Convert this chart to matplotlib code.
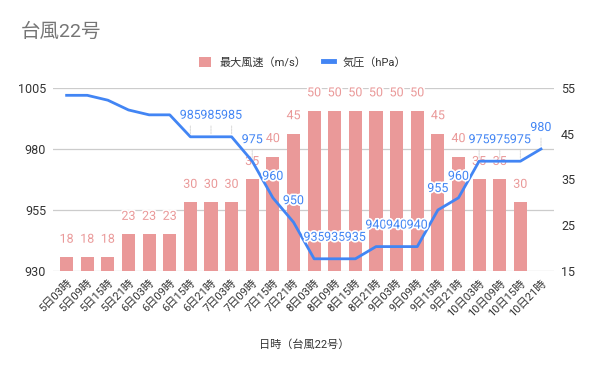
import numpy as np
import matplotlib
matplotlib.use("Agg")
import matplotlib.pyplot as plt
import matplotlib.patheffects as pe
from matplotlib.patches import Patch
from matplotlib.lines import Line2D

plt.rcParams['font.family'] = ['Roboto', 'Noto Sans CJK JP', 'DejaVu Sans']

categories = ["5日03時", "5日09時", "5日15時", "5日21時",
              "6日03時", "6日09時", "6日15時", "6日21時",
              "7日03時", "7日09時", "7日15時", "7日21時",
              "8日03時", "8日09時", "8日15時", "8日21時",
              "9日03時", "9日09時", "9日15時", "9日21時",
              "10日03時", "10日09時", "10日15時", "10日21時"]
wind = [18, 18, 18, 23, 23, 23, 30, 30, 30, 35, 40, 45,
        50, 50, 50, 50, 50, 50, 45, 40, 35, 35, 30, np.nan]
pressure = [1002, 1002, 1000, 996, 994, 994, 985, 985, 985, 975, 960, 950,
            935, 935, 935, 940, 940, 940, 955, 960, 975, 975, 975, 980]
pressure_labeled = [False] * 6 + [True] * 18
leader = [6, 7, 8, 9, 20, 21, 22, 23]
series_names = ["最大風速（m/s）", "気圧（hPa）"]
x_title = "日時（台風22号）"
chart_title = "台風22号"

bar_color = '#EA9999'
line_color = '#4285F4'
text_color = '#333333'

fig = plt.figure(figsize=(6, 3.71), dpi=100)
ax = fig.add_axes([53/600, 1-271/371, (554-53)/600, (271-88)/371])
ax2 = ax.twinx()

x = np.arange(len(categories))

# bars (wind) on ax, right side ticks
ax.bar(x, wind, width=0.64, color=bar_color, zorder=2)
ax.set_ylim(15, 55)
ax.set_yticks([15, 25, 35, 45, 55])
ax.yaxis.tick_right()
ax.set_xlim(-0.66, 23.63)
ax.set_xticks(x)
ax.set_xticklabels(categories, rotation=45, ha='right', rotation_mode='anchor',
                   fontsize=8, color=text_color)
ax.tick_params(axis='x', length=0, pad=5)
ax.tick_params(axis='y', length=0, pad=5, labelsize=9, labelcolor=text_color)

for g in [930, 955, 980, 1005]:
    yy = 15 + (g - 930) / 75 * 40
    ax.axhline(yy, color='#cccccc', lw=0.9, zorder=0)

halo = [pe.withStroke(linewidth=2.5, foreground='white')]
for i, v in enumerate(wind):
    if np.isnan(v):
        continue
    ax.annotate(f"{int(v)}", xy=(i, v), xytext=(0, 13), textcoords='offset points',
                ha='center', va='center', fontsize=9, color=bar_color,
                path_effects=halo, zorder=3)

# line (pressure) on ax2, left side ticks
ax2.plot(x, pressure, color=line_color, lw=2, zorder=4, solid_joinstyle='round')
ax2.set_ylim(930, 1005)
ax2.set_yticks([930, 955, 980, 1005])
ax2.yaxis.tick_left()
ax2.tick_params(axis='y', length=0, pad=5, labelsize=9, labelcolor=text_color)

for i, v in enumerate(pressure):
    if not pressure_labeled[i]:
        continue
    kw = {}
    if i in leader:
        kw['arrowprops'] = dict(arrowstyle='-', color='#d9d9d9', lw=0.7,
                                linestyle=(0, (2, 1)), shrinkA=1, shrinkB=2)
    ax2.annotate(f"{v}", xy=(i, v), xytext=(0, 15.5), textcoords='offset points',
                 ha='center', va='center', fontsize=9, color=line_color,
                 path_effects=halo, zorder=5, **kw)

for a in (ax, ax2):
    for s in a.spines.values():
        s.set_visible(False)

ax.set_xlabel(x_title, fontsize=8, color=text_color)
ax.xaxis.set_label_coords((304-53)/(554-53), -(339-271)/(271-88))

fig.text(21/600, 1-32/371, chart_title, fontsize=14, color='#757575',
         ha='left', va='center')

handles = [Patch(facecolor=bar_color, edgecolor='none'),
           Line2D([0], [0], color=line_color, lw=3.5)]
fig.legend(handles, series_names, loc='center',
           bbox_to_anchor=(303/600, 1-62/371), ncol=2, frameon=False,
           fontsize=8, handlelength=1.0, handleheight=1.0, columnspacing=1.5,
           handletextpad=0.8, labelcolor=text_color)

fig.savefig("out.png", dpi=100)
